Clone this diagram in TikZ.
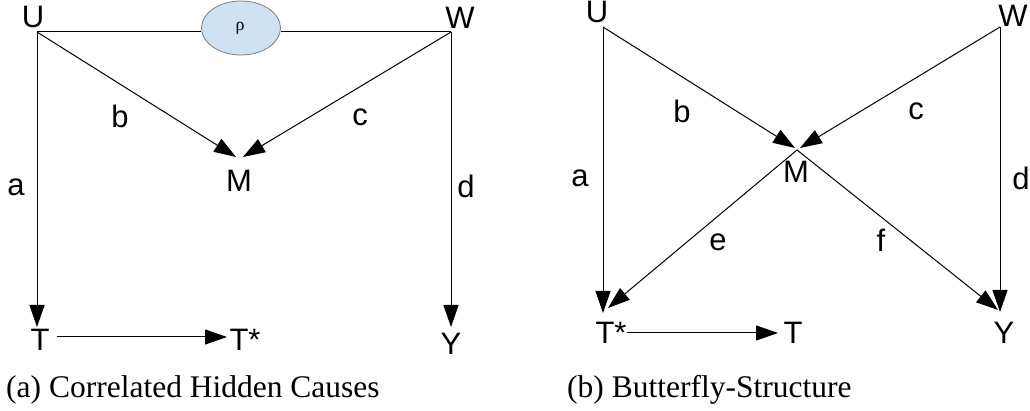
\documentclass[tikz,border=0pt]{standalone}
\usepackage{fontspec}
\setmainfont{Liberation Serif}
\newfontfamily\lblfont{Liberation Sans}
\usetikzlibrary{arrows.meta,shapes.geometric}
\definecolor{rhofill}{RGB}{207,226,243}
\definecolor{rhoedge}{RGB}{125,125,125}
\begin{document}
\begin{tikzpicture}[x=1pt,y=-1pt,
  lbl/.style={inner sep=0pt,font=\lblfont\fontsize{31}{33}\selectfont},
  captext/.style={inner sep=0pt,anchor=base west,font=\fontsize{31.5}{34}\selectfont},
  edge/.style={line width=1pt},
  arr/.style={line width=1pt,-{Triangle[length=22pt,width=15pt]}}]
\useasboundingbox (0,0) rectangle (1030,411);
% ---------- (a) ----------
\node[lbl] (Ua) at (33,17) {U};
\node[lbl] (Wa) at (460,18) {W};
\node[lbl] (Ma) at (239,181) {M};
\node[lbl] (Ta) at (40,340) {T};
\node[lbl] (Tsa) at (245,340) {T*};
\node[lbl] (Ya) at (451,344) {Y};
\node[ellipse,draw=rhoedge,fill=rhofill,line width=0.8pt,minimum width=79pt,minimum height=54pt,inner sep=0pt] (rho) at (241,28) {};
\node[inner sep=0pt,font=\fontsize{18}{20}\selectfont] (rhotxt) at (240,28) {ρ};
\coordinate (ua) at (37,32);
\coordinate (wa) at (451,32);
\coordinate (mla) at (236,157);
\coordinate (mra) at (243,157);
\coordinate (tta) at (37,327);
\coordinate (yta) at (451,327);
\coordinate (tsa) at (57,337);
\coordinate (tea) at (227,337);
\draw[edge] (ua) -- (ua -| rho.west);
\draw[edge] (wa -| rho.east) -- (wa);
\draw[arr] (ua) -- (mla);
\draw[arr] (wa) -- (mra);
\draw[arr] (ua) -- (tta);
\draw[arr] (wa) -- (yta);
\draw[arr] (tsa) -- (tea);
\node[lbl] (la) at (16,187) {a};
\node[lbl] (lb) at (120,116) {b};
\node[lbl] (lc) at (360,117) {c};
\node[lbl] (ld) at (466,186) {d};
\node[captext] (capa) at (6,397) {(a) Correlated Hidden Causes};
% ---------- (b) ----------
\node[lbl] (Ub) at (597,12) {U};
\node[lbl] (Wb) at (1013,16) {W};
\node[lbl] (Mb) at (796,172) {M};
\node[lbl] (Tsb) at (611,333) {T*};
\node[lbl] (Tb) at (793,333) {T};
\node[lbl] (Yb) at (1004,333) {Y};
\coordinate (ub) at (603,27);
\coordinate (wb) at (1000,27);
\coordinate (mc) at (797,150);
\coordinate (mlb) at (795,148);
\coordinate (mrb) at (800,148);
\coordinate (ttb) at (603,313);
\coordinate (ytb) at (1000,312);
\coordinate (tsb) at (608,308);
\coordinate (ysb) at (998,310);
\coordinate (hs) at (627,333);
\coordinate (he) at (778,333);
\draw[arr] (ub) -- (mlb);
\draw[arr] (wb) -- (mrb);
\draw[arr] (ub) -- (ttb);
\draw[arr] (wb) -- (ytb);
\draw[arr] (mc) -- (tsb);
\draw[arr] (mc) -- (ysb);
\draw[arr] (hs) -- (he);
\node[lbl] (lab) at (580,178) {a};
\node[lbl] (lbb) at (682,111) {b};
\node[lbl] (lcb) at (916,111) {c};
\node[lbl] (ldb) at (1021,178) {d};
\node[lbl] (leb) at (718,242) {e};
\node[lbl] (lfb) at (881,240) {f};
\node[captext] (capb) at (567,397) {(b) Butterfly-Structure};
\end{tikzpicture}
\end{document}
